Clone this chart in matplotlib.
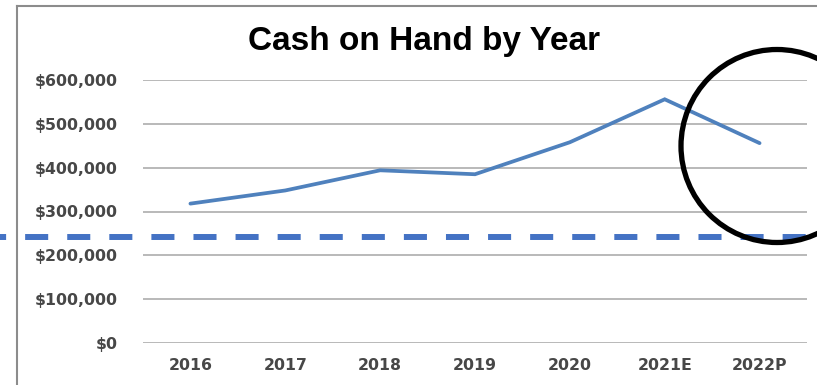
import matplotlib

matplotlib.use("Agg")
import matplotlib.pyplot as plt
from matplotlib.lines import Line2D
from matplotlib.patches import Ellipse
from matplotlib.ticker import FuncFormatter

years = ["2016", "2017", "2018", "2019", "2020", "2021E", "2022P"]
cash = [318000, 348000, 394000, 385000, 458000, 556000, 456000]
threshold = 242000

plt.rcParams["font.family"] = ["DejaVu Sans"]
plt.rcParams["lines.scale_dashes"] = False

W, H = 817, 385
fig = plt.figure(figsize=(W / 100, H / 100), dpi=100)
fig.patch.set_facecolor("white")

# plot area in pixel terms: x 143..807, y 80..343
ax = fig.add_axes([143 / W, (H - 343) / H, 664 / W, 263 / H])
x = range(len(years))
ax.plot(x, cash, color="#4F81BD", lw=2.7, solid_capstyle="round",
        solid_joinstyle="miter", zorder=3)

ax.set_xlim(-0.5, len(years) - 0.5)
ax.set_ylim(0, 600000)
ax.set_yticks(range(0, 600001, 100000))
ax.yaxis.set_major_formatter(FuncFormatter(lambda v, _: f"${v:,.0f}"))
ax.set_xticks(list(x))
ax.set_xticklabels(years)

ax.grid(axis="y", color="#a6a6a6", lw=1.1)
ax.set_axisbelow(True)
for s in ax.spines.values():
    s.set_visible(False)
ax.tick_params(length=0, labelsize=11.3, labelcolor="#474747")
ax.tick_params(axis="y", pad=18)
ax.tick_params(axis="x", pad=11)
for lab in ax.get_xticklabels() + ax.get_yticklabels():
    lab.set_fontweight("bold")

fig.text(424 / W, (H - 50) / H, "Cash on Hand by Year", ha="center",
         va="baseline", fontsize=24, fontweight="bold",
         family=["Liberation Sans", "DejaVu Sans"], color="black")

# chart frame (left and top edges visible)
fx, fy = 17 / W, (H - 6) / H
fig.add_artist(Line2D([fx, fx], [0, fy], transform=fig.transFigure,
                      color="#8c8c8c", lw=1.5))
fig.add_artist(Line2D([fx, 1], [fy, fy], transform=fig.transFigure,
                      color="#8c8c8c", lw=1.5))

# dashed threshold line across the whole figure
ax.axhline(threshold, xmin=-143 / 664, xmax=674 / 664, clip_on=False,
           color="#4472C4", lw=4.3, solid_capstyle="butt",
           dash_capstyle="butt", linestyle=(12.2, (16.6, 13.7)), zorder=4)

# highlight circle around the projection
fig.add_artist(Ellipse((777 / W, (H - 146) / H), 192 / W, 193 / H,
                       transform=fig.transFigure, fill=False,
                       edgecolor="black", lw=3.8, zorder=5))

fig.savefig("out.png", dpi=100)
